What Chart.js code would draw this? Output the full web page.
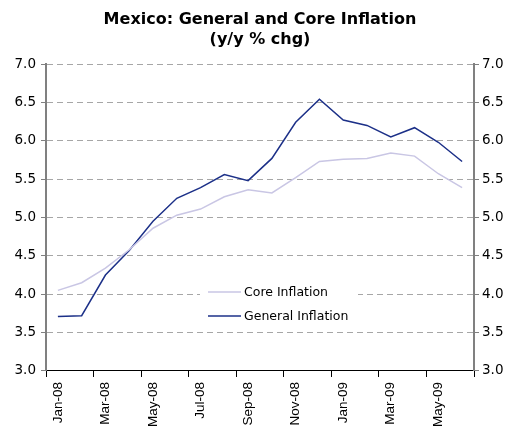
<!DOCTYPE html>
<html>
<head>
<meta charset="utf-8">
<script src="https://cdn.jsdelivr.net/npm/chart.js@4.4.0/dist/chart.umd.min.js"></script>
<style>
  html, body { margin: 0; padding: 0; background: #fff; }
  #wrap { width: 520px; height: 434px; }
</style>
</head>
<body>
<div id="wrap"><canvas id="inflationCanvas" width="520" height="434"></canvas></div>
<script>
const months = ['Jan-08','Feb-08','Mar-08','Apr-08','May-08','Jun-08','Jul-08','Aug-08','Sep-08',
                'Oct-08','Nov-08','Dec-08','Jan-09','Feb-09','Mar-09','Apr-09','May-09','Jun-09'];
const coreInflation = [4.05,4.15,4.34,4.58,4.86,5.03,5.11,5.27,5.36,5.32,5.52,5.73,5.76,5.77,5.84,5.80,5.57,5.39];
const generalInflation = [3.71,3.72,4.25,4.57,4.95,5.25,5.39,5.56,5.48,5.77,6.24,6.54,6.27,6.20,6.05,6.17,5.98,5.73];
const yMin = 3.0, yMax = 7.0, yStep = 0.5;

const coreColor = '#c9c6e4';
const generalColor = '#1c3088';

// legend drawn inside the plot, with a white box over the grid
const insideLegend = {
  id: 'insideLegend',
  afterDraw(chart) {
    const ctx = chart.ctx;
    const a = chart.chartArea;
    const x0 = a.left + 162, y0 = a.top + 228;
    ctx.save();
    ctx.fillStyle = '#fff';
    ctx.fillRect(x0 - 8, y0 - 12, 158, 40);
    ctx.font = '12.5px "DejaVu Sans"';
    ctx.textBaseline = 'middle';
    chart.data.datasets.forEach((ds, i) => {
      const y = y0 + i * 24;
      ctx.strokeStyle = ds.borderColor;
      ctx.lineWidth = 1.5;
      ctx.beginPath();
      ctx.moveTo(x0, y);
      ctx.lineTo(x0 + 33, y);
      ctx.stroke();
      ctx.fillStyle = '#000';
      ctx.fillText(ds.label, x0 + 36, y + 1);
    });
    ctx.restore();
  }
};

const inflationChart = new Chart(document.getElementById('inflationCanvas'), {
  type: 'line',
  data: {
    labels: months,
    datasets: [{
      label: 'Core Inflation',
      data: coreInflation,
      borderColor: coreColor,
      borderWidth: 1.5,
      pointRadius: 0,
      tension: 0
    }, {
      label: 'General Inflation',
      data: generalInflation,
      borderColor: generalColor,
      borderWidth: 1.5,
      pointRadius: 0,
      tension: 0
    }]
  },
  options: {
    responsive: false,
    animation: false,
    layout: { padding: { left: 0, right: 0, top: 0, bottom: 2 } },
    plugins: {
      legend: { display: false },
      tooltip: { enabled: false },
      title: {
        display: true,
        text: ['Mexico: General and Core Inflation', '(y/y % chg)'],
        color: '#000',
        font: { family: '"DejaVu Sans"', size: 16, weight: 'bold', lineHeight: 1.25 },
        padding: { top: 10, bottom: 14 }
      }
    },
    scales: {
      x: {
        type: 'category',
        offset: true,
        grid: {
          offset: true,
          drawOnChartArea: false,
          drawTicks: true,
          tickLength: 6,
          tickColor: c => (c.index === undefined || c.index % 2 === 0) ? '#000' : 'rgba(0,0,0,0)'
        },
        border: { color: '#000', width: 1 },
        ticks: {
          autoSkip: false,
          maxRotation: 90,
          minRotation: 90,
          padding: 5,
          color: '#000',
          font: { family: '"Liberation Sans"', size: 13.5 },
          callback: (v, i) => i % 2 === 0 ? months[i] : ''
        }
      },
      y: {
        position: 'left',
        min: yMin, max: yMax,
        afterFit: s => { s.width = 46; },
        grid: { color: '#a6a6a6', tickColor: '#808080', tickLength: 5, tickBorderDash: [] },
        border: { color: '#808080', width: 2, dash: [6, 4] },
        ticks: {
          stepSize: yStep,
          padding: 5,
          color: '#000',
          font: { family: '"DejaVu Sans"', size: 13.5 },
          callback: v => v.toFixed(1)
        }
      },
      y2: {
        position: 'right',
        min: yMin, max: yMax,
        afterFit: s => { s.width = 46; },
        grid: { drawOnChartArea: false, tickColor: '#808080', tickLength: 5 },
        border: { color: '#808080', width: 2 },
        ticks: {
          stepSize: yStep,
          padding: 3,
          color: '#000',
          font: { family: '"DejaVu Sans"', size: 13.5 },
          callback: v => v.toFixed(1)
        }
      }
    }
  },
  plugins: [insideLegend]
});
</script>
</body>
</html>
